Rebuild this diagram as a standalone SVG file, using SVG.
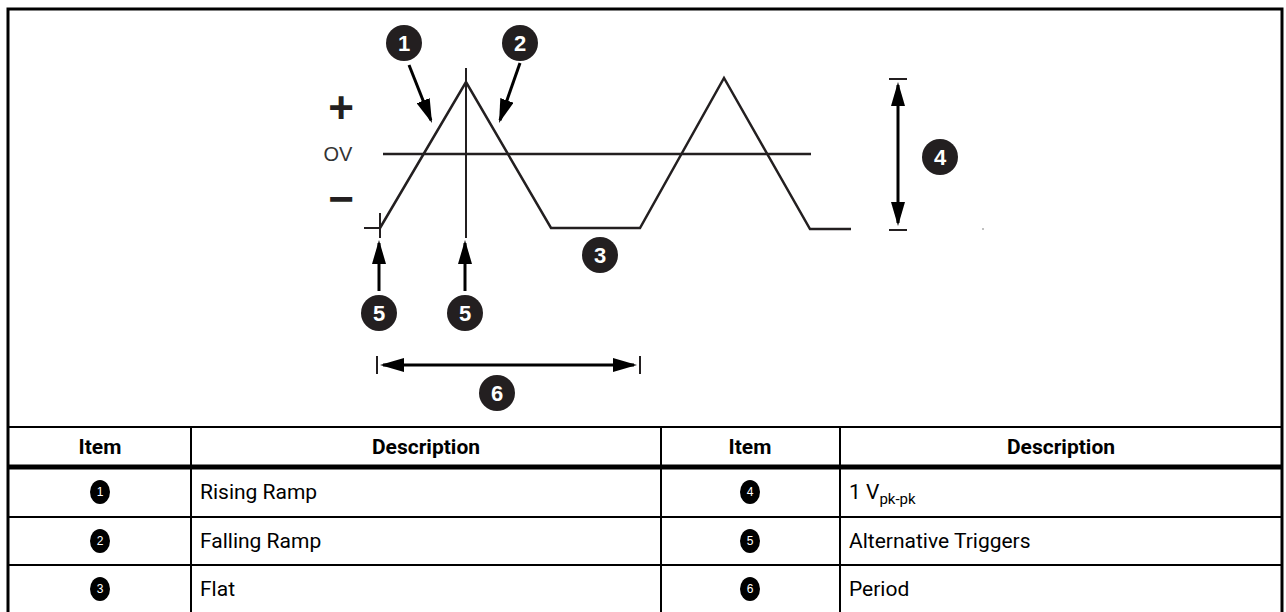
<svg xmlns="http://www.w3.org/2000/svg" width="1286" height="612" viewBox="0 0 1286 612">
<style>
.wave{fill:none;stroke:#231f20;stroke-width:2.5;stroke-linejoin:miter}
.arr{fill:none;stroke:#000;stroke-width:3}
.tick{fill:none;stroke:#231f20;stroke-width:2}
.co circle{fill:#231f20}
.co text{fill:#fff;font-family:"Liberation Sans",Arial,sans-serif;font-weight:bold;font-size:22px;text-anchor:middle}
.sm ellipse{fill:#000}
.sm text{fill:#fff;font-family:"Liberation Sans",Arial,sans-serif;font-size:12px;text-anchor:middle}
.hd{font-family:Roboto,"Liberation Sans",sans-serif;font-weight:bold;font-size:21px;text-anchor:middle;fill:#000}
.bd{font-family:Roboto,"Liberation Sans",sans-serif;font-size:21px;fill:#000}
.grid{stroke:#000;stroke-width:2;fill:none}
.sign{font-family:"Liberation Sans",Arial,sans-serif;font-weight:bold;font-size:44px;text-anchor:middle;fill:#231f20}
</style>
<defs>
<marker id="ah" viewBox="0 0 24 14" refX="21" refY="7" markerWidth="24" markerHeight="14" markerUnits="userSpaceOnUse" orient="auto-start-reverse">
<path d="M0,0 L24,7 L0,14 z" fill="#000"/>
</marker>
</defs>
<rect width="1286" height="612" fill="#fff"/>

<g id="frame">
<path d="M8,614 V9 H1282 V614" fill="none" stroke="#000" stroke-width="3"/>
</g>

<g id="axis-labels">
<text class="sign" x="341" y="123">+</text>
<text x="338" y="161" font-family="Liberation Sans,Arial,sans-serif" font-size="20" text-anchor="middle" fill="#333">OV</text>
<text class="sign" x="341" y="214">−</text>
</g>

<g id="waveform">
<line class="wave" x1="383" y1="154" x2="811" y2="154"/>
<polyline class="wave" points="380,228 466,82 551,228 640,228 724,78 810,229 851,229"/>
<line class="tick" x1="364" y1="228" x2="380" y2="228"/>
<line class="tick" x1="380" y1="213" x2="380" y2="238"/>
<line class="tick" x1="466" y1="68" x2="466" y2="238"/>
<line class="tick" x1="889" y1="79" x2="907" y2="79"/>
<line class="tick" x1="889" y1="230" x2="907" y2="230"/>
<line class="tick" x1="377" y1="356" x2="377" y2="374"/>
<line class="tick" x1="640" y1="356" x2="640" y2="374"/>
<circle cx="983" cy="229" r="0.7" fill="#555"/>
</g>

<g id="connectors">
<line class="arr" x1="409" y1="65" x2="430.9" y2="120.2" marker-end="url(#ah)"/>
<line class="arr" x1="520" y1="63" x2="500" y2="120.2" marker-end="url(#ah)"/>
<line class="arr" x1="379" y1="291" x2="379" y2="243" marker-end="url(#ah)"/>
<line class="arr" x1="465" y1="291" x2="465" y2="243" marker-end="url(#ah)"/>
<line class="arr" x1="898" y1="85" x2="898" y2="223" marker-start="url(#ah)" marker-end="url(#ah)"/>
<line class="arr" x1="383" y1="365" x2="634" y2="365" marker-start="url(#ah)" marker-end="url(#ah)"/>
</g>

<g id="callout-1" class="co"><circle cx="404" cy="43" r="18"/><text x="404" y="51">1</text></g>
<g id="callout-2" class="co"><circle cx="520" cy="43" r="18"/><text x="520" y="51">2</text></g>
<g id="callout-3" class="co"><circle cx="600" cy="255" r="18"/><text x="600" y="263">3</text></g>
<g id="callout-4" class="co"><circle cx="940" cy="157" r="18"/><text x="940" y="165">4</text></g>
<g id="callout-5a" class="co"><circle cx="379" cy="313" r="18"/><text x="379" y="321">5</text></g>
<g id="callout-5b" class="co"><circle cx="465" cy="313" r="18"/><text x="465" y="321">5</text></g>
<g id="callout-6" class="co"><circle cx="497" cy="393" r="18"/><text x="497" y="401">6</text></g>

<g id="table">
<line class="grid" x1="8" y1="427" x2="1282" y2="427"/>
<line x1="8" y1="467" x2="1282" y2="467" stroke="#000" stroke-width="5"/>
<line class="grid" x1="8" y1="517" x2="1282" y2="517"/>
<line class="grid" x1="8" y1="565" x2="1282" y2="565"/>
<line class="grid" x1="191" y1="427" x2="191" y2="612"/>
<line class="grid" x1="661" y1="427" x2="661" y2="612"/>
<line class="grid" x1="840" y1="427" x2="840" y2="612"/>
<text class="hd" x="100" y="454">Item</text>
<text class="hd" x="426" y="454">Description</text>
<text class="hd" x="750" y="454">Item</text>
<text class="hd" x="1061" y="454">Description</text>
<g id="t1" class="sm"><ellipse cx="100" cy="492" rx="10" ry="12"/><text x="100" y="496">1</text></g>
<g id="t2" class="sm"><ellipse cx="100" cy="541" rx="10" ry="12"/><text x="100" y="545">2</text></g>
<g id="t3" class="sm"><ellipse cx="100" cy="589" rx="10" ry="12"/><text x="100" y="593">3</text></g>
<g id="t4" class="sm"><ellipse cx="750" cy="492" rx="10" ry="12"/><text x="750" y="496">4</text></g>
<g id="t5" class="sm"><ellipse cx="750" cy="541" rx="10" ry="12"/><text x="750" y="545">5</text></g>
<g id="t6" class="sm"><ellipse cx="750" cy="589" rx="10" ry="12"/><text x="750" y="593">6</text></g>
<text class="bd" x="200" y="499">Rising Ramp</text>
<text class="bd" x="200" y="548">Falling Ramp</text>
<text class="bd" x="200" y="596">Flat</text>
<text class="bd" x="849" y="499">1 V<tspan font-size="15" dy="5">pk-pk</tspan></text>
<text class="bd" x="849" y="548">Alternative Triggers</text>
<text class="bd" x="849" y="596">Period</text>
</g>
</svg>
